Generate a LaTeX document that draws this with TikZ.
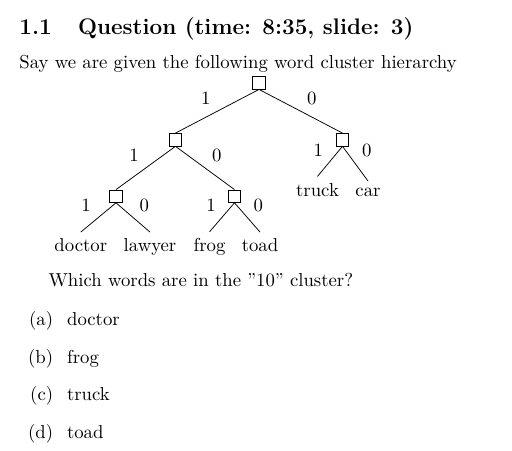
\documentclass[tikz,border=0pt]{standalone}
\usepackage{fontspec}
\begin{document}
\begin{tikzpicture}[x=0.5333pt,y=-0.5333pt,
  cl/.style={draw,inner sep=3.33pt,minimum size=0pt},
  leaf/.style={anchor=base,inner sep=3.33pt},
  lab/.style={inner sep=0pt},
  txt/.style={anchor=base west,inner sep=0pt},
  itm/.style={anchor=base east,inner sep=0pt}]
\useasboundingbox (0,0) rectangle (512,451);
% header
\node[txt] (num) at (19,34) {\large\bfseries 1.1};
\node[txt] (head) at (77.7,34) {\large\bfseries Question (time: 8:35, slide: 3)};
\node[txt] (intro) at (19,68.3) {Say we are given the following word cluster hierarchy};
% tree nodes
\node[cl] (root) at (259,82.8) {};
\node[cl] (L) at (175.5,139.7) {};
\node[cl] (R) at (342.5,139.7) {};
\node[cl] (LL) at (116,196.2) {};
\node[cl] (LR) at (234.5,196.2) {};
\node[leaf] (doctor) at (80.8,251.7) {doctor};
\node[leaf] (lawyer) at (150,251.7) {lawyer};
\node[leaf] (frog) at (209.5,251.7) {frog};
\node[leaf] (toad) at (260,251.7) {toad};
\node[leaf] (truck) at (317.5,196) {truck};
\node[leaf] (car) at (368,196) {car};
% edges
\draw (root.south) -- (L.north);
\draw (root.south) -- (R.north);
\draw (L.south) -- (LL.north);
\draw (L.south) -- (LR.north);
\draw (R.south) -- (truck.north);
\draw (R.south) -- (car.north);
\draw (LL.south) -- (doctor.north);
\draw (LL.south) -- (lawyer.north);
\draw (LR.south) -- (frog.north);
\draw (LR.south) -- (toad.north);
% edge labels
\node[lab] (r1) at (205.7,98.3) {1};
\node[lab] (r0) at (311.7,98.3) {0};
\node[lab] (l1) at (134,155) {1};
\node[lab] (l0) at (216.7,155) {0};
\node[lab] (rr1) at (318.3,150) {1};
\node[lab] (rr0) at (366.7,150) {0};
\node[lab] (ll1) at (86,205.7) {1};
\node[lab] (ll0) at (144.3,205.7) {0};
\node[lab] (lr1) at (211,205.7) {1};
\node[lab] (lr0) at (258.3,205.7) {0};
% question
\node[txt] (q) at (48.3,286.7) {Which words are in the ''10'' cluster?};
\node[itm] (ia) at (53.5,325) {(a)};
\node[txt] (ta) at (66.7,325) {doctor};
\node[itm] (ib) at (53.5,363) {(b)};
\node[txt] (tb) at (66.7,363) {frog};
\node[itm] (ic) at (53.5,400.7) {(c)};
\node[txt] (tc) at (66.7,400.7) {truck};
\node[itm] (id) at (53.5,438) {(d)};
\node[txt] (td) at (66.7,438) {toad};
\end{tikzpicture}
\end{document}
